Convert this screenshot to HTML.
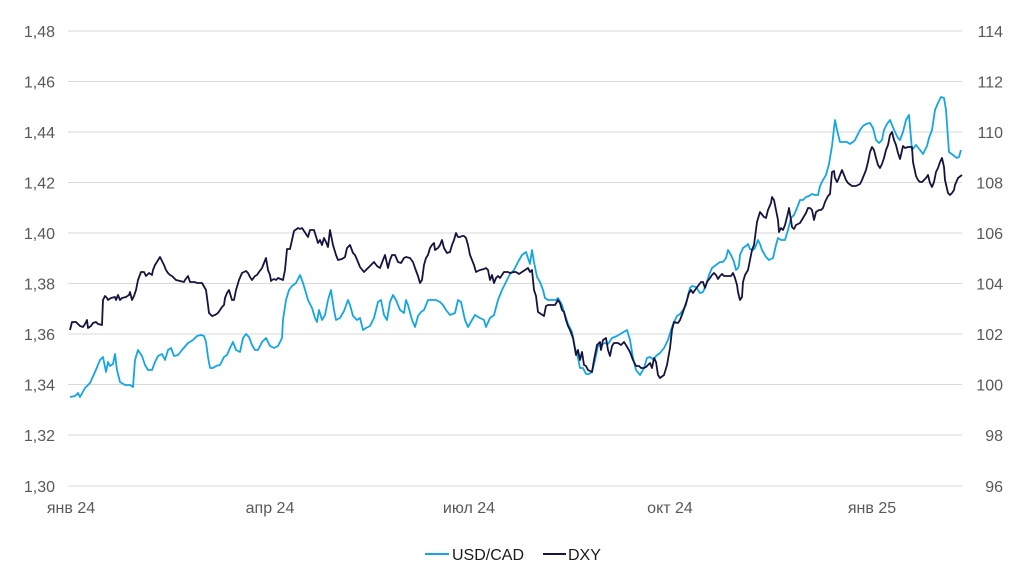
<!DOCTYPE html>
<html><head><meta charset="utf-8"><style>
body{margin:0;background:#fff}
svg text{font-family:"Liberation Sans",sans-serif;font-size:16px;fill:#595959}
</style></head><body>
<svg width="1024" height="576" viewBox="0 0 1024 576" xmlns="http://www.w3.org/2000/svg">
<g stroke="#d9d9d9" stroke-width="1">
<line x1="68" x2="962" y1="31" y2="31"/><line x1="68" x2="962" y1="81.5" y2="81.5"/><line x1="68" x2="962" y1="132" y2="132"/><line x1="68" x2="962" y1="182.5" y2="182.5"/><line x1="68" x2="962" y1="233" y2="233"/><line x1="68" x2="962" y1="283.5" y2="283.5"/><line x1="68" x2="962" y1="334" y2="334"/><line x1="68" x2="962" y1="384.5" y2="384.5"/><line x1="68" x2="962" y1="435" y2="435"/><line x1="68" x2="962" y1="486" y2="486"/>
</g>
<g text-anchor="end">
<text x="55" y="37">1,48</text><text x="55" y="87.5">1,46</text><text x="55" y="138">1,44</text><text x="55" y="188.5">1,42</text><text x="55" y="239">1,40</text><text x="55" y="289.5">1,38</text><text x="55" y="340">1,36</text><text x="55" y="390.5">1,34</text><text x="55" y="441">1,32</text><text x="55" y="492">1,30</text>
</g>
<g text-anchor="end">
<text x="1003" y="37">114</text><text x="1003" y="87.5">112</text><text x="1003" y="138">110</text><text x="1003" y="188.5">108</text><text x="1003" y="239">106</text><text x="1003" y="289.5">104</text><text x="1003" y="340">102</text><text x="1003" y="390.5">100</text><text x="1003" y="441">98</text><text x="1003" y="492">96</text>
</g>
<g text-anchor="middle">
<text x="71" y="513">янв 24</text><text x="270" y="513">апр 24</text><text x="469" y="513">июл 24</text><text x="670" y="513">окт 24</text><text x="872" y="513">янв 25</text>
</g>
<polyline fill="none" stroke="#14a6e3" stroke-width="1.8" stroke-linejoin="round" points="70,397 75,396 78,393 80,397 85,388 90,383 95,372 100,360 103,357 106,372 108,362 110,366 113,364 115,354 117,370 120,382 125,385 130,385 133,387 135,360 138,350 142,356 145,365 148,370 152,370 155,362 158,356 162,354 165,360 168,350 171,348 174,356 178,355 182,350 188,343 193,340 197,336 201,335 204,336 206,342 208,357 210,368 213,368 216,366 220,365 224,357 227,355 230,348 233,342 236,350 240,352 243,338 246,334 249,337 252,345 255,350 258,350 262,342 266,338 270,346 274,348 278,346 282,338 283,320 286,300 289,290 292,286 296,283 300,275 303,283 306,293 308,300 312,308 315,318 317,322 319,310 322,320 325,315 328,300 331,290 334,310 336,320 340,318 344,311 348,300 350,305 353,316 357,320 360,318 363,330 366,328 370,326 374,318 378,302 381,300 384,315 387,320 390,302 393,295 396,300 400,310 404,313 406,300 408,305 412,320 415,327 418,316 421,312 424,310 428,300 432,300 436,300 440,302 443,305 446,310 450,315 455,313 458,300 461,302 465,320 468,327 472,320 475,315 480,318 484,320 486,327 490,318 494,315 498,300 502,290 506,282 510,274 514,270 518,262 522,255 526,252 530,264 532,250 534,262 537,277 540,282 543,290 545,298 548,300 552,300 556,300 558,298 562,305 565,315 568,324 572,332 575,348 578,358 580,368 583,368 586,374 589,374 592,372 595,360 598,346 601,345 605,343 608,344 612,338 617,336 622,333 627,330 630,340 633,358 636,370 640,375 644,368 647,358 650,357 654,360 656,356 660,353 664,348 668,340 671,330 674,322 677,316 680,314 683,310 686,305 688,295 690,288 692,286 696,287 700,293 703,292 706,285 709,275 712,268 716,265 720,262 723,262 726,258 728,250 731,255 734,262 736,270 738,268 739,265 740,255 743,248 746,246 748,244 750,249 753,250 755,248 758,240 760,244 762,250 766,257 769,260 773,258 776,245 778,238 781,240 785,240 788,230 791,218 794,215 797,208 800,200 803,200 806,197 809,196 812,194 815,195 818,195 820,186 823,180 826,175 829,164 832,146 835,120 837,130 840,142 844,142 847,142 850,144 853,142 855,140 857,136 860,130 863,126 866,124 870,123 873,128 876,140 879,143 882,140 884,130 887,124 890,120 892,125 895,132 898,138 900,140 903,132 906,120 909,115 912,150 916,145 920,150 923,154 927,146 929,138 932,130 935,110 938,103 941,97 944,98 946,110 949,152 953,155 957,158 959,157 961,150"/>
<polyline fill="none" stroke="#15133f" stroke-width="1.8" stroke-linejoin="round" points="70,330 72,322 76,322 80,326 83,327 85,324 87,320 88,328 91,326 93,323 96,322 98,324 102,325 103,300 105,296 107,298 108,300 111,298 115,297 116,300 118,295 120,300 122,298 126,297 129,295 130,292 132,300 134,296 136,290 138,280 141,272 144,272 146,276 149,273 152,275 153,270 155,265 160,257 164,265 166,270 168,273 170,275 172,276 174,278 176,280 180,281 184,282 185,280 188,276 190,282 192,282 195,282 197,283 202,283 206,290 208,305 209,313 212,316 215,315 218,313 222,307 224,305 225,298 227,293 229,290 232,300 234,300 236,290 239,280 242,273 246,271 248,273 250,277 252,280 255,276 257,275 259,272 262,268 266,258 268,270 270,275 271,281 272,280 274,279 276,280 278,278 283,280 285,270 287,249 290,249 292,240 294,231 298,228 300,229 302,228 306,234 308,237 310,230 314,230 318,243 320,240 322,245 324,238 326,242 328,247 330,230 333,245 336,255 338,260 342,259 345,257 347,248 350,245 353,253 355,255 358,262 360,267 364,272 366,270 368,268 371,265 374,262 377,266 380,268 383,260 385,255 388,268 390,260 392,255 395,255 398,262 401,263 404,258 406,257 410,258 413,262 415,268 418,276 420,283 422,280 424,265 426,258 428,255 430,248 432,245 434,243 435,250 438,248 440,245 442,240 444,248 447,253 450,252 452,245 454,240 456,233 458,237 460,237 462,236 464,236 466,238 468,245 470,255 472,260 474,265 476,272 480,270 484,269 486,268 488,270 490,280 492,275 494,283 496,278 498,276 500,278 504,272 508,272 510,273 514,272 516,272 519,274 522,272 525,270 528,268 530,272 532,270 534,290 536,296 538,312 541,314 544,316 546,306 548,305 552,305 555,305 558,300 560,303 562,310 564,312 566,320 568,326 570,330 573,338 576,355 578,350 580,360 582,352 584,365 586,366 588,370 592,372 594,360 597,345 600,342 601,350 603,340 606,338 608,350 610,356 612,346 614,343 618,343 621,345 624,342 626,345 630,352 633,360 636,366 639,366 641,368 644,368 646,367 648,365 650,363 652,368 654,358 656,362 658,375 660,378 664,375 667,365 670,348 672,330 674,322 678,323 680,320 683,312 687,300 689,293 691,290 693,293 695,290 698,286 701,282 703,282 705,288 707,282 710,278 712,275 714,273 716,275 718,279 720,276 722,274 724,276 726,276 729,276 731,276 733,273 735,278 737,285 738,292 740,300 742,297 743,282 745,275 748,270 750,260 752,250 754,245 757,222 760,212 764,217 766,218 768,210 771,203 772,197 774,200 776,210 778,220 779,232 781,228 783,230 785,225 788,213 789,208 791,220 792,227 794,229 796,225 800,223 803,218 806,213 808,208 810,208 812,210 814,220 816,212 819,210 821,210 823,208 825,202 828,196 830,194 832,172 834,171 835,178 837,182 838,180 840,175 842,170 846,180 848,183 852,186 856,186 860,184 862,180 864,175 866,170 868,162 870,152 872,147 874,150 876,158 878,165 880,168 882,164 884,158 886,150 888,145 890,135 892,132 894,140 896,145 898,153 900,159 903,146 905,148 908,147 912,147 913,162 916,176 918,180 920,182 922,182 924,180 926,178 928,175 930,183 932,187 934,182 936,172 938,168 940,162 942,158 944,167 945,180 948,193 950,195 952,193 954,190 955,185 958,178 962,175"/>
<line x1="425" x2="449" y1="554" y2="554" stroke="#14a6e3" stroke-width="2"/>
<text x="452" y="560" style="fill:#1a1a1a">USD/CAD</text>
<line x1="543" x2="566" y1="554" y2="554" stroke="#15133f" stroke-width="2"/>
<text x="568" y="560" style="fill:#1a1a1a">DXY</text>
</svg>
</body></html>
